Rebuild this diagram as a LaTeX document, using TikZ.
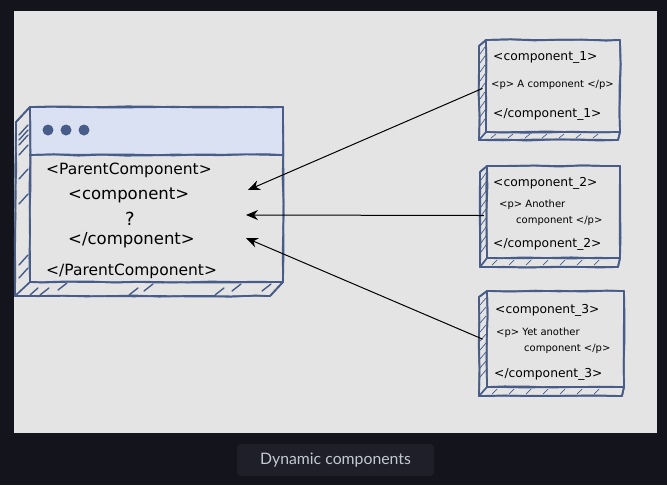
\documentclass[tikz,border=0pt]{standalone}
\usepackage{fontspec}
\setmainfont{DejaVu Sans}
\newfontfamily\captionfont{Lato}
\usetikzlibrary{arrows.meta,decorations.pathmorphing}
\definecolor{pagebg}{HTML}{14151C}
\definecolor{capbg}{HTML}{1E1F28}
\definecolor{capfg}{HTML}{C4C8D0}
\definecolor{panelbg}{HTML}{E4E4E4}
\definecolor{inkblue}{HTML}{475C88}
\definecolor{barblue}{HTML}{DAE1F3}
\tikzset{
  rough/.style={draw=inkblue,line width=1.7pt,line join=round,line cap=round,decoration={random steps,segment length=24pt,amplitude=0.7pt},
    every to/.style={to path={decorate{-- (\tikztotarget)}}}},
  hatch/.style={draw=inkblue,line width=1.4pt,line cap=round},
  big/.style={anchor=mid west,inner sep=0pt,font=\fontsize{15.5}{18}\selectfont},
  large/.style={anchor=mid west,inner sep=0pt,font=\fontsize{16.5}{19}\selectfont},
  mid/.style={anchor=mid west,inner sep=0pt,font=\fontsize{12.3}{15}\selectfont},
  tiny/.style={anchor=mid west,inner sep=0pt,font=\fontsize{10}{12}\selectfont},
  link/.style={-{Stealth[length=12pt,width=10pt]},line width=1pt,shorten <=-4pt},
}
\begin{document}
\begin{tikzpicture}[x=1pt,y=-1pt]
    \pgfmathsetseed{7}
    \useasboundingbox (0,0) rectangle (667,485);
    \fill[pagebg] (0,0) rectangle (667,485);
    \fill[panelbg] (14,11) rectangle (657,433);
    % caption
    \node[fill=capbg,rounded corners=4pt,minimum width=197pt,minimum height=32pt,text=capfg,font=\captionfont\fontsize{15.8}{18}\selectfont] (caption) at (335.5,460) {Dynamic components};
    % parent window
    \fill[barblue] (30,107) rectangle (283,155);
    \foreach \pass in {1,2} {
        \draw[rough] (30,107) to (283,107) to (283,282) to (30,282) to (30,107);
        \draw[rough] (30,155) to (283,155);
        \draw[rough] (30,107) to (16,122) to (15,296) to (270,296) to (283,282);
    }
    \draw[rough] (15,296) to (30,282);
    \foreach \y in {127,132,137,147,171,196,257,270}
        \draw[hatch] (19,\y+8) -- (28,\y-2);
    \foreach \x/\y/\w in {30/295/8,40/295/9,58/290/9,129/295/9,144/291/9,215/295/9,232/291/9,262/291/9}
        \draw[hatch] (\x,\y) -- (\x+\w,\y-7);
    \foreach \x/\n in {48/dotA,66/dotB,84/dotC}
        \node[circle,fill=inkblue,minimum size=11pt,inner sep=0pt] (\n) at (\x,130) {};
    \node[big] (parentOpen) at (46,172) {<ParentComponent>};
    \node[large] (slotOpen) at (68,197) {<component>};
    \node[big,font=\fontsize{18}{20}\selectfont] (slotMark) at (125,223) {?};
    \node[large] (slotClose) at (68,242) {</component>};
    \node[big] (parentClose) at (46,273) {</ParentComponent>};
    \coordinate (slotA) at (248,190);
    \coordinate (slotB) at (246,215);
    \coordinate (slotC) at (246,238);
    % component boxes: left, right, top, bottom, outer left, outer bottom
    \foreach \n/\l/\r/\t/\b/\o/\u in {boxA/486/620/40/132/479/140,boxB/487/620/166/258/480/267,boxC/487/624/291/387/479/396} {
        \foreach \pass in {1,2} {
            \draw[rough] (\l,\t) to (\r,\t) to (\r,\b) to (\l,\b) to (\l,\t);
            \draw[rough] (\l,\t) to (\o,\t+6) to (\o,\u) to (\r-2,\u) to (\r,\b);
        }
        \draw[rough] (\o,\u) to (\l,\b);
        \foreach \k in {1,...,9}
            \draw[hatch,line width=0.7pt] (\o+1,\t+\k*9+5) -- (\l-1,\t+\k*9-2);
        \foreach \k in {1,...,7}
            \draw[hatch,line width=0.7pt] (\l+\k*17-12,\u-2) -- (\l+\k*17-7,\b+2);
        \node[minimum width=\r pt-\o pt,minimum height=\u pt-\t pt,inner sep=0pt] (\n) at ({(\o+\r)/2},{(\t+\u)/2}) {};
    }
    \node[mid] (openA) at (493,58) {<component\_1>};
    \node[tiny] (bodyA) at (491,85) {<p> A component </p>};
    \node[mid] (closeA) at (493,115) {</component\_1>};
    \node[mid] (openB) at (493,184) {<component\_2>};
    \node[tiny] (bodyB) at (499,205) {<p> Another};
    \node[tiny] (restB) at (516,221) {component </p>};
    \node[mid] (closeB) at (493,245) {</component\_2>};
    \node[mid] (openC) at (495,311) {<component\_3>};
    \node[tiny] (bodyC) at (496,333) {<p> Yet another};
    \node[tiny] (restC) at (524,349) {component </p>};
    \node[mid] (closeC) at (494,375) {</component\_3>};
    % arrows into the window
    \draw[link] (boxA.west) -- (slotA);
    \draw[link] ([yshift=1pt]boxB.west) -- (slotB);
    \draw[link] ([yshift=6pt]boxC.west) -- (slotC);
\end{tikzpicture}
\end{document}
